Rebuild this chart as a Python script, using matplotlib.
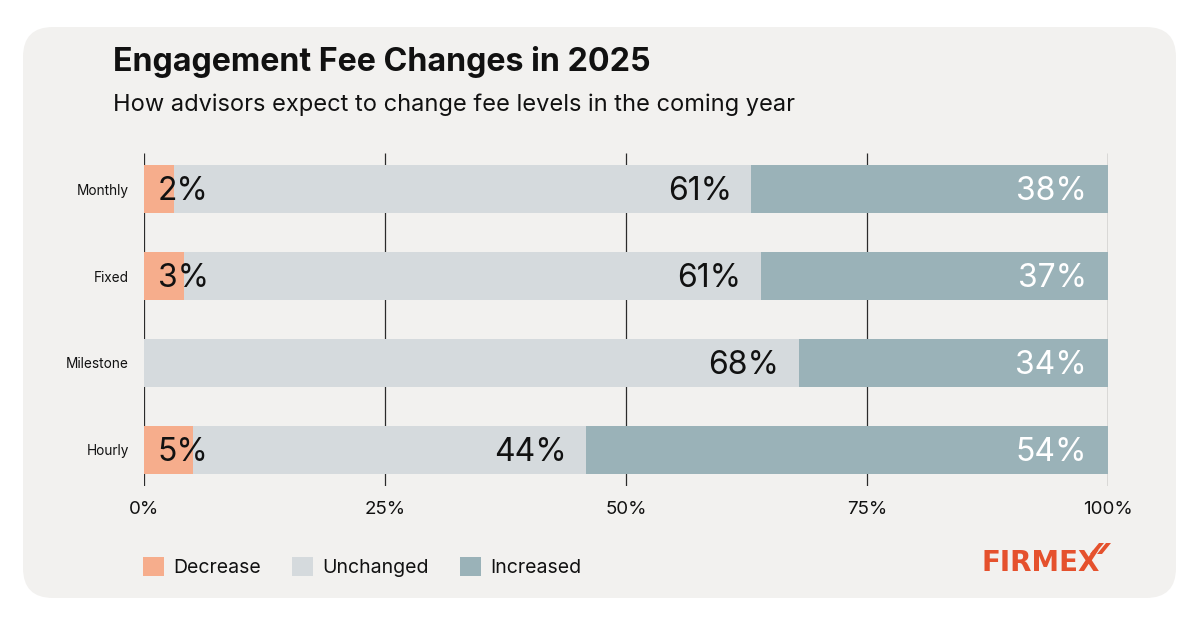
import matplotlib
matplotlib.use("Agg")
import matplotlib.pyplot as plt
from matplotlib.patches import FancyBboxPatch, Patch, Polygon
from matplotlib.transforms import IdentityTransform

plt.rcParams['font.family'] = ['Inter', 'DejaVu Sans']

# ---- data ----
categories = ["Monthly", "Fixed", "Milestone", "Hourly"]
series_names = ["Decrease", "Unchanged", "Increased"]
decrease = [3.1, 4.1, 0.0, 5.1]          # bar widths as drawn (%)
unchanged = [59.9, 59.9, 67.9, 40.8]
increased = [37.0, 36.0, 32.1, 54.1]
decrease_labels = ["2%", "3%", "", "5%"]    # printed labels
unchanged_labels = ["61%", "61%", "68%", "44%"]
increased_labels = ["38%", "37%", "34%", "54%"]
x_ticks = [0, 25, 50, 75, 100]
x_tick_labels = ["0%", "25%", "50%", "75%", "100%"]

title = "Engagement Fee Changes in 2025"
subtitle = "How advisors expect to change fee levels in the coming year"

# ---- style ----
c_dec = "#f6ad8c"
c_unch = "#d5dadd"
c_inc = "#9ab2b8"
c_card = "#f2f1ef"
c_line = "#2b2b2b"
c_logo = "#e5512d"

W, H = 1200, 628
fig = plt.figure(figsize=(W / 100, H / 100), dpi=100)
fig.patch.set_facecolor("white")

# rounded card background (pixel coordinates)
card = FancyBboxPatch((23, H - 598), 1153, 571,
                      boxstyle="round,pad=0,rounding_size=30",
                      transform=IdentityTransform(), facecolor=c_card,
                      edgecolor="none", zorder=-10)
fig.patches.append(card)

fig.text(113 / W, 1 - 71 / H, title, fontsize=23.2, fontweight="bold",
         color="#111111", va="baseline", ha="left")
fig.text(113 / W, 1 - 111 / H, subtitle, fontsize=17, color="#111111",
         va="baseline", ha="left")

ax = fig.add_axes([144 / W, 1 - 486 / H, 964 / W, 333 / H])
ax.patch.set_visible(False)
for s in ax.spines.values():
    s.set_visible(False)

y = list(range(len(categories)))
bar_h = 0.552
ax.set_xlim(0, 100)
ax.set_ylim(3.414, -0.414)

ax.vlines(x_ticks, -0.414, 3.414, color=c_line, lw=0.9, zorder=0)

left_unch = decrease
left_inc = [d + u for d, u in zip(decrease, unchanged)]
b1 = ax.barh(y, decrease, height=bar_h, color=c_dec, zorder=2)
b2 = ax.barh(y, unchanged, left=left_unch, height=bar_h, color=c_unch, zorder=2)
b3 = ax.barh(y, increased, left=left_inc, height=bar_h, color=c_inc, zorder=2)

lab_fs = 23
for i in y:
    if decrease_labels[i]:
        ax.annotate(decrease_labels[i], (0, i), xytext=(10, -2),
                    textcoords="offset points", ha="left", va="center",
                    fontsize=lab_fs, color="#111111", zorder=3)
    ax.annotate(unchanged_labels[i], (left_inc[i], i), xytext=(-14, -2),
                textcoords="offset points", ha="right", va="center",
                fontsize=lab_fs, color="#111111", zorder=3)
    ax.annotate(increased_labels[i], (left_inc[i] + increased[i], i),
                xytext=(-15, -2), textcoords="offset points", ha="right",
                va="center", fontsize=lab_fs, color="white", zorder=3)

ax.set_xticks(x_ticks, x_tick_labels)
ax.set_yticks(y, categories)
ax.tick_params(axis="x", length=0, pad=11, labelsize=13.5, labelcolor="#111111")
ax.tick_params(axis="y", length=0, pad=11, labelsize=9.8, labelcolor="#111111")

# legend
handles = [Patch(facecolor=c, edgecolor="none") for c in (c_dec, c_unch, c_inc)]
fig.legend(handles, series_names, loc="center left",
           bbox_to_anchor=(143 / W, 1 - 567 / H), ncol=3, frameon=False,
           fontsize=14, handlelength=1.1, handleheight=1.1,
           handletextpad=0.45, columnspacing=1.6, borderpad=0,
           borderaxespad=0, labelcolor="#111111")

# logo
logo = fig.text(1100 / W, 1 - 571 / H, "FIRMEX", fontsize=20,
                fontweight="bold", family=["DejaVu Sans"], color=c_logo,
                ha="right", va="baseline")
for dx in (0, 7):
    pts = [(1090 + dx, H - 554), (1095 + dx, H - 554),
           (1104 + dx, H - 543), (1099 + dx, H - 543)]
    fig.patches.append(Polygon(pts, closed=True, transform=IdentityTransform(),
                               facecolor=c_logo, edgecolor="none"))

fig.savefig("out.png", dpi=100, facecolor="white")
